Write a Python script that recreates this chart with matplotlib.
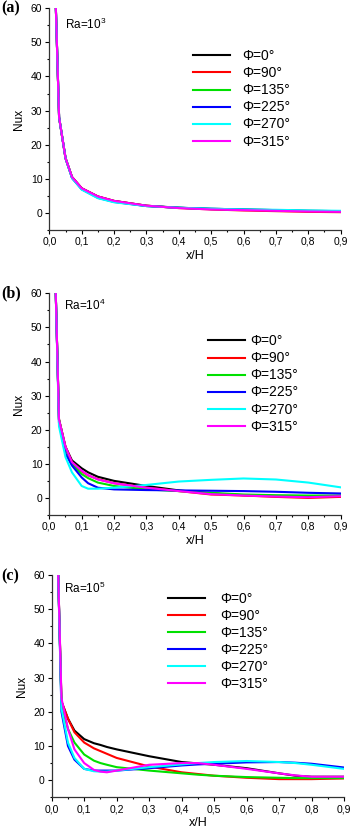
import numpy as np
import matplotlib
matplotlib.use('Agg')
import matplotlib.pyplot as plt
from matplotlib.ticker import MultipleLocator, FuncFormatter

plt.rcParams['font.family'] = ['Liberation Sans', 'DejaVu Sans']
plt.rcParams['mathtext.fontset'] = 'custom'
plt.rcParams['mathtext.rm'] = 'Liberation Sans'

# Data
labels = ['Φ=0°', 'Φ=90°', 'Φ=135°', 'Φ=225°', 'Φ=270°', 'Φ=315°']
colors = ['black', 'red', '#00e000', 'blue', 'cyan', 'magenta']
ra_labels = ['Ra=10$^3$', 'Ra=10$^4$', 'Ra=10$^5$']
panel_tags = ['(a)', '(b)', '(c)']

x_a = [0.02, 0.03, 0.05, 0.07, 0.1, 0.15, 0.2, 0.3, 0.4, 0.5, 0.6, 0.7, 0.8, 0.9]
nu_a = {
    'Φ=0°':   [60, 28, 16, 10.5, 7.2, 4.8, 3.5, 2.1, 1.5, 1.1, 0.9, 0.7, 0.5, 0.4],
    'Φ=90°':  [60, 28, 16, 10.5, 7.2, 4.8, 3.5, 2.1, 1.4, 1.0, 0.7, 0.5, 0.3, 0.2],
    'Φ=135°': [60, 28, 16, 10.3, 7.0, 4.5, 3.3, 2.0, 1.5, 1.2, 1.0, 0.8, 0.6, 0.5],
    'Φ=225°': [60, 28, 16, 10.2, 6.9, 4.4, 3.2, 2.0, 1.5, 1.2, 1.0, 0.8, 0.6, 0.5],
    'Φ=270°': [60, 28, 16, 10.2, 6.8, 4.3, 3.1, 2.0, 1.5, 1.2, 1.0, 0.9, 0.7, 0.6],
    'Φ=315°': [60, 28, 16, 10.5, 7.2, 4.8, 3.5, 2.1, 1.4, 1.0, 0.8, 0.6, 0.4, 0.3],
}

x_b = [0.02, 0.03, 0.05, 0.07, 0.1, 0.12, 0.15, 0.2, 0.3, 0.4, 0.5, 0.6, 0.7, 0.8, 0.9]
nu_b = {
    'Φ=0°':   [60, 23, 15, 11, 8.7, 7.5, 6.2, 5.0, 3.5, 2.2, 1.3, 0.8, 0.5, 0.4, 0.6],
    'Φ=90°':  [60, 23, 15, 10.5, 7.8, 6.6, 5.5, 4.3, 3.0, 2.0, 1.0, 0.7, 0.3, 0.0, 0.3],
    'Φ=135°': [60, 23, 14.5, 10, 7.0, 5.8, 4.5, 3.5, 2.5, 2.0, 1.5, 1.0, 0.8, 0.7, 0.7],
    'Φ=225°': [60, 22, 13, 9.5, 6.0, 4.3, 3.0, 2.5, 2.3, 2.2, 2.1, 2.0, 1.8, 1.5, 1.3],
    'Φ=270°': [60, 21, 12, 7.5, 3.5, 2.7, 2.7, 3.0, 3.8, 4.8, 5.3, 5.7, 5.4, 4.5, 3.1],
    'Φ=315°': [60, 23, 15, 10.5, 8.0, 6.7, 5.4, 4.3, 3.0, 2.0, 1.1, 0.7, 0.4, 0.2, 0.5],
}

x_c = [0.02, 0.03, 0.05, 0.07, 0.1, 0.13, 0.15, 0.17, 0.2, 0.3, 0.4, 0.45, 0.5, 0.6, 0.7, 0.75, 0.8, 0.9]
nu_c = {
    'Φ=0°':   [60, 23, 18, 14.5, 12, 10.8, 10.3, 9.7, 9.0, 7.0, 5.3, 4.9, 4.5, 3.5, 2.0, 1.3, 1.0, 1.0],
    'Φ=90°':  [60, 23, 18, 14, 11, 9.3, 8.5, 7.7, 6.5, 4.0, 2.3, 1.8, 1.3, 0.7, 0.3, 0.3, 0.3, 0.5],
    'Φ=135°': [60, 22, 15, 11, 7.5, 5.7, 5.0, 4.5, 3.8, 2.8, 2.0, 1.6, 1.3, 0.9, 0.7, 0.6, 0.6, 0.6],
    'Φ=225°': [60, 20, 10, 6.0, 3.3, 2.8, 2.8, 2.8, 2.8, 3.5, 4.3, 4.6, 4.8, 5.2, 5.3, 5.1, 4.8, 3.7],
    'Φ=270°': [60, 21, 11, 6.5, 3.3, 2.6, 2.5, 2.5, 2.8, 3.8, 4.6, 5.0, 5.3, 5.6, 5.3, 5.0, 4.5, 3.3],
    'Φ=315°': [60, 24, 15, 9.0, 5.0, 3.0, 2.5, 2.3, 2.8, 4.5, 5.0, 5.0, 4.5, 3.3, 2.0, 1.4, 1.0, 1.0],
}

panels = [(x_a, nu_a), (x_b, nu_b), (x_c, nu_c)]

fig = plt.figure(figsize=(3.52, 8.33), dpi=100)

# axes boxes [left, bottom, width, height] in figure fraction
boxes = [[0.1403, 0.7240, 0.8273, 0.2661],
         [0.1400, 0.3818, 0.8278, 0.2661],
         [0.1469, 0.0429, 0.8304, 0.2669]]
legend_anchor = [(0.493, 0.815), (0.545, 0.815), (0.398, 0.923)]
text_pad = [0.86, 0.36, 1.08]
ra_pos = [(0.053, 0.929), (0.050, 0.944), (0.042, 0.940)]
tag_y = [0.990, 0.648, 0.308]

for i, (xs, data) in enumerate(panels):
    ax = fig.add_axes(boxes[i])
    for lab, col in zip(labels, colors):
        ax.plot(xs, data[lab], color=col, lw=1.5, label=lab)

    ax.set_xlim(0, 0.9)
    ax.set_ylim(-5, 60)
    ax.spines['top'].set_visible(False)
    ax.spines['right'].set_visible(False)
    for s in ['left', 'bottom']:
        ax.spines[s].set_linewidth(0.9)
        ax.spines[s].set_color('#333333')
    ax.xaxis.set_major_locator(MultipleLocator(0.1))
    ax.xaxis.set_minor_locator(MultipleLocator(0.05))
    ax.yaxis.set_major_locator(MultipleLocator(10))
    ax.yaxis.set_minor_locator(MultipleLocator(5))
    ax.xaxis.set_major_formatter(FuncFormatter(lambda v, p: f'{v:.1f}'.replace('.', ',')))
    ax.tick_params(which='major', direction='out', length=3, width=0.8, labelsize=7.5, pad=2)
    ax.tick_params(which='minor', direction='out', length=1.5, width=0.8)

    ax.set_xlabel('x/H', fontsize=9, labelpad=2)
    ax.set_ylabel('Nux', fontsize=8.5, labelpad=4)

    ax.text(ra_pos[i][0], ra_pos[i][1], ra_labels[i], transform=ax.transAxes,
            fontsize=8.5, va='center', ha='left')

    ax.legend(loc='upper left', bbox_to_anchor=legend_anchor[i], frameon=False,
              fontsize=10, handlelength=2.66, handletextpad=text_pad[i],
              labelspacing=0.22, borderpad=0, borderaxespad=0)

    fig.text(0.003, tag_y[i], panel_tags[i], family='Liberation Serif',
             fontweight='bold', fontsize=11.5, va='center', ha='left')

fig.savefig('out.png', dpi=100)
